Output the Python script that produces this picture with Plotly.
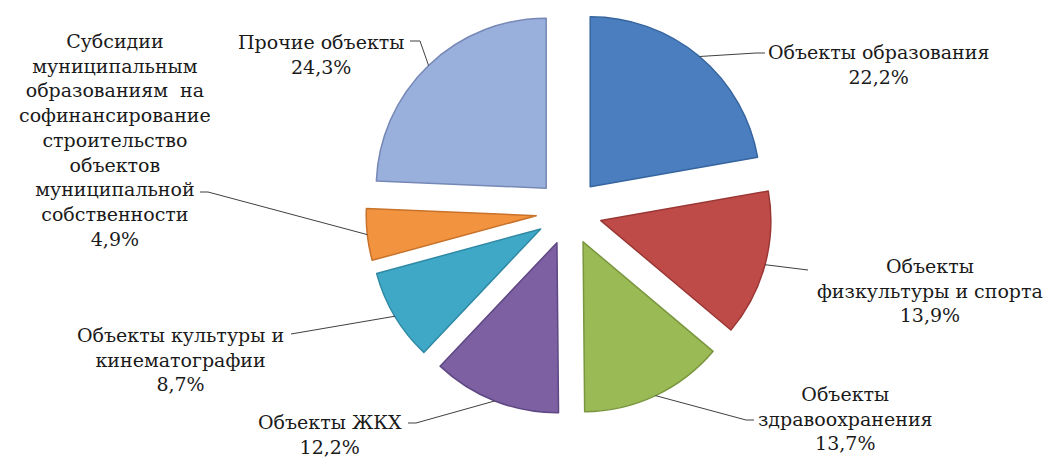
import math
import plotly.graph_objects as go

# ---- data ----
categories = [
    "Объекты образования",
    "Объекты физкультуры и спорта",
    "Объекты здравоохранения",
    "Объекты ЖКХ",
    "Объекты культуры и кинематографии",
    "Субсидии муниципальным образованиям на софинансирование строительство объектов муниципальной собственности",
    "Прочие объекты",
]
values = [22.2, 13.9, 13.7, 12.2, 8.7, 4.9, 24.3]
value_labels = ["22,2%", "13,9%", "13,7%", "12,2%", "8,7%", "4,9%", "24,3%"]
label_lines = [
    ["Объекты образования"],
    ["Объекты", "физкультуры и спорта"],
    ["Объекты", "здравоохранения"],
    ["Объекты ЖКХ"],
    ["Объекты культуры и", "кинематографии"],
    ["Субсидии", "муниципальным", "образованиям  на", "софинансирование",
     "строительство", "объектов", "муниципальной", "собственности"],
    ["Прочие объекты"],
]
colors = ["#4A7EBE", "#BF4B48", "#99BA55", "#7C60A2", "#40A8C7", "#F29340", "#9AB0DC"]
edge_colors = ["#36659F", "#9A3734", "#7A963F", "#5F4784", "#2F89A5", "#C8722A", "#7688B5"]

# ---- layout parameters (pixels) ----
W, H = 1057, 457
CX, CY = 561, 204     # pie centre
R = 170               # radius
PULL = 0.194          # explode fraction of radius
FONT = "DejaVu Serif, serif"
FS = 19

# label block centres, leader elbow and leader end at the label (pixels)
label_pos = [
    dict(x=870, y=56, ex=748, ey=45, lx=757, ly=45),
    dict(x=922, y=282, ex=800, ey=262, lx=800, ly=262),
    dict(x=837, y=410, ex=738, ey=412, lx=746, ly=412),
    dict(x=322, y=426, ex=408, ey=415, lx=400, ly=415),
    dict(x=172, y=351, ex=283, ey=326, lx=283, ly=326),
    dict(x=107, y=132, ex=200, ey=184, lx=192, ly=184),
    dict(x=313, y=46, ex=412, ey=33, lx=402, ly=33),
]

half = R * (1 + PULL)
domain_x = [(CX - half) / W, (CX + half) / W]
domain_y = [1 - (CY + half) / H, 1 - (CY - half) / H]

fig = go.Figure(go.Pie(
    labels=categories,
    values=values,
    sort=False,
    direction="clockwise",
    rotation=0,
    pull=[PULL] * len(values),
    textinfo="none",
    hoverinfo="label+percent",
    marker=dict(colors=colors, line=dict(color=edge_colors, width=1.5)),
    domain=dict(x=domain_x, y=domain_y),
    showlegend=False,
))

def px2paper(x, y):
    return x / W, 1 - y / H

total = sum(values)
cum = 0.0
annotations = []
shapes = []
for i, v in enumerate(values):
    a0 = cum / total * 2 * math.pi
    cum += v
    a1 = cum / total * 2 * math.pi
    mid = (a0 + a1) / 2
    dx, dy = math.sin(mid), -math.cos(mid)
    ax = CX + dx * R * (1 + PULL)
    ay = CY + dy * R * (1 + PULL)
    lp = label_pos[i]
    pts = [px2paper(ax, ay), px2paper(lp["ex"], lp["ey"]), px2paper(lp["lx"], lp["ly"])]
    for (x0, y0), (x1, y1) in zip(pts[:-1], pts[1:]):
        if (x0, y0) == (x1, y1):
            continue
        shapes.append(dict(type="line", xref="paper", yref="paper",
                           x0=x0, y0=y0, x1=x1, y1=y1,
                           line=dict(color="#404040", width=1)))
    text = "<br>".join(label_lines[i] + [value_labels[i]])
    tx, ty = px2paper(lp["x"], lp["y"])
    annotations.append(dict(x=tx, y=ty, xref="paper", yref="paper",
                            text=text, showarrow=False, align="center",
                            xanchor="center", yanchor="middle",
                            font=dict(family=FONT, size=FS, color="#1a1a1a")))

fig.update_layout(
    width=W, height=H,
    margin=dict(l=0, r=0, t=0, b=0),
    paper_bgcolor="white",
    plot_bgcolor="white",
    font=dict(family=FONT),
    annotations=annotations,
    shapes=shapes,
)

fig.write_html("out.html")
